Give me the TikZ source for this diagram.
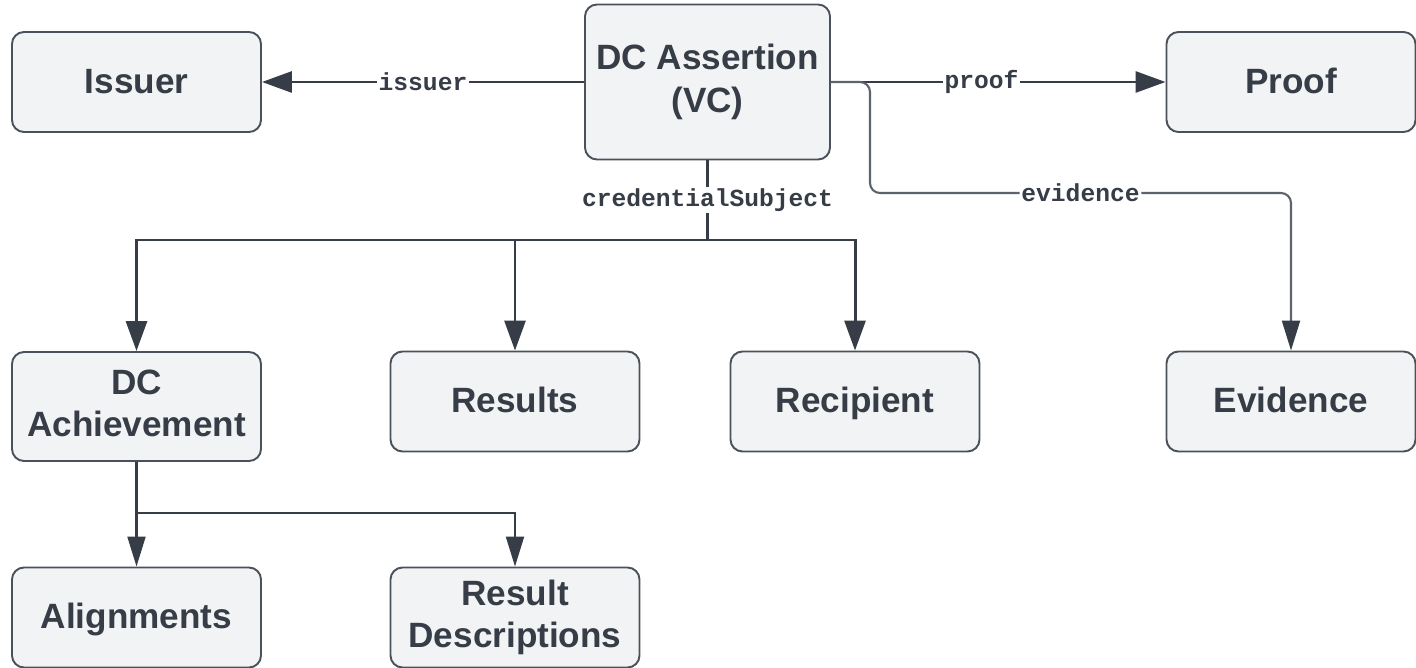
\documentclass[tikz,border=0pt]{standalone}
\usepackage{fontspec}
\setmainfont{Liberation Sans}
\setmonofont{Liberation Mono}
\usetikzlibrary{calc,arrows.meta}

\definecolor{boxfill}{HTML}{F2F3F5}
\definecolor{boxline}{HTML}{4A515A}
\definecolor{inkdark}{HTML}{363D47}
\definecolor{inkgray}{HTML}{5C636D}

\newcommand{\boxstrut}{\rule[-4pt]{0pt}{21pt}}

\tikzset{
    entity/.style={draw=boxline, line width=1.1pt, fill=boxfill, rounded corners=2.4mm,
        minimum width=49.8mm, minimum height=20mm, align=center, text=inkdark,
        font=\fontsize{20}{24}\selectfont\bfseries, inner sep=0pt,
        execute at begin node=\boxstrut, execute at end node=\boxstrut},
    heavy/.style={draw=inkdark, line width=1.7pt, -{Triangle[length=6mm,width=4.2mm]}},
    light/.style={draw=inkgray, line width=1.2pt, -{Triangle[length=6mm,width=3.6mm,color=inkdark]}},
    branch/.style={light, draw=inkdark},
    prop/.style={fill=white, inner sep=1pt, text=inkdark,
        font=\ttfamily\bfseries\fontsize{14}{16}\selectfont}
}

\begin{document}
\begin{tikzpicture}[x=0.2mm,y=-0.2mm]

        \useasboundingbox (0,0) rectangle (1416,668);

        \node (assertion) [entity, minimum width=49mm, minimum height=31mm] at (707.5,82) {DC Assertion\\(VC)};
        \node (issuer) [entity] at (136.5,82) {Issuer};
        \node (proof) [entity] at (1291,82) {Proof};

        \node (achievement) [entity, minimum height=21.8mm] at (136.5,406.5) {DC\\Achievement};
        \node (results) [entity] at (515,401.5) {Results};
        \node (recipient) [entity] at (855,401.5) {Recipient};
        \node (evidence) [entity] at (1291,401.5) {Evidence};

        \node (alignments) [entity] at (136.5,617.5) {Alignments};
        \node (resultdesc) [entity] at (515,617.5) {Result\\Descriptions};

        \draw [heavy] (assertion.west) -- node [prop] {issuer} (issuer.east);
        \draw [heavy] (assertion.east) -- node [prop, pos=0.45] {proof} (proof.west);

        \coordinate (evbend) at (870,193);
        \draw [light, rounded corners=2mm] (assertion.east) -- (evbend |- assertion.east) -- (evbend)
            -- node [prop] {evidence} (evbend -| evidence.north) -- (evidence.north);

        \coordinate (subject) at (707.5,240);
        \draw [heavy, -] (assertion.south) -- node [prop] {credentialSubject} (subject);
        \draw [heavy] (subject) -| (achievement.north);
        \draw [heavy] (subject) -| (results.north);
        \draw [heavy] (subject) -| (recipient.north);

        \coordinate (achsplit) at (136.5,513);
        \draw [branch] (achievement.south) -- (alignments.north);
        \draw [branch] (achsplit) -| (resultdesc.north);

    \end{tikzpicture}
\end{document}
